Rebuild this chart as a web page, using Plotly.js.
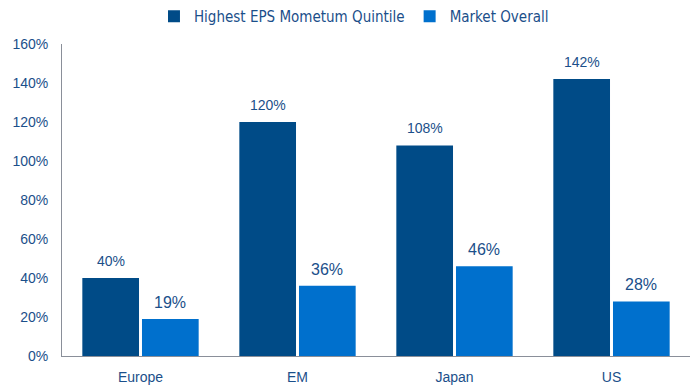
<!DOCTYPE html>
<html>
<head>
<meta charset="utf-8">
<script src="https://cdn.plot.ly/plotly-3.0.1.min.js"></script>
<style>html,body{margin:0;padding:0;background:#fff}#chart{width:690px;height:390px}</style>
</head>
<body>
<div id="chart"></div>
<script>
// Regions and the share of each group (percent)
const regions = ["Europe", "EM", "Japan", "US"];
const topQuintile = [40, 120, 108, 142];
const marketOverall = [19, 36, 46, 28];
const seriesNames = ["Highest EPS Mometum Quintile", "Market Overall"];
const seriesColors = ["#004b87", "#0070cd"];
const yTicks = [0, 20, 40, 60, 80, 100, 120, 140, 160];

const textColor = "#1b4f8a";
const fontFamily = "Liberation Sans, Arial, sans-serif";
const labelFont = {family: fontFamily, size: 14, color: textColor};
const valueFonts = [
  {family: fontFamily, size: 14, color: textColor},
  {family: fontFamily, size: 16, color: textColor}
];

const W = 690, H = 390;
const margin = {l: 62, r: 0, t: 44, b: 34};
const bargap = 0.24;

function barTrace(name, values, color) {
  return {
    type: "bar",
    name: name,
    x: regions,
    y: values,
    marker: {color: color},
    hoverinfo: "skip"
  };
}

const data = [
  barTrace(seriesNames[0], topQuintile, seriesColors[0]),
  barTrace(seriesNames[1], marketOverall, seriesColors[1])
];

// Value labels sit above each bar, shifted sideways to the bar's slot in the group
const catWidth = (W - margin.l - margin.r) / regions.length;
const slotOffset = catWidth * (1 - bargap) / 4;
const annotations = [];
[topQuintile, marketOverall].forEach((vals, s) => {
  vals.forEach((v, i) => {
    annotations.push({
      x: regions[i], y: v, xref: "x", yref: "y",
      text: v + "%",
      showarrow: false,
      yanchor: "bottom",
      yshift: s === 0 ? 7 : 6,
      xshift: s === 0 ? -slotOffset : slotOffset,
      font: valueFonts[s]
    });
  });
});

const layout = {
  width: W,
  height: H,
  margin: margin,
  paper_bgcolor: "#ffffff",
  plot_bgcolor: "#ffffff",
  barmode: "group",
  bargap: bargap,
  bargroupgap: 0.05,
  showlegend: true,
  annotations: annotations,
  legend: {
    orientation: "h",
    xref: "container",
    yref: "container",
    x: 0.513,
    xanchor: "center",
    y: 1.0,
    yanchor: "top",
    font: {family: "DejaVu Sans Condensed, Liberation Sans Narrow, sans-serif", size: 15, color: textColor},
    itemwidth: 30,
    traceorder: "normal"
  },
  xaxis: {
    showline: true,
    linecolor: "#8a8f99",
    linewidth: 1,
    ticks: "",
    showgrid: false,
    ticklabelstandoff: 8,
    tickfont: labelFont,
    fixedrange: true
  },
  yaxis: {
    range: [0, 160],
    tickvals: yTicks,
    ticktext: yTicks.map(v => v + "%"),
    showline: true,
    linecolor: "#8a8f99",
    linewidth: 1,
    showgrid: false,
    zeroline: false,
    ticks: "",
    ticklabelstandoff: 10,
    tickfont: labelFont,
    fixedrange: true
  }
};

Plotly.newPlot("chart", data, layout, {displayModeBar: false, staticPlot: true});
</script>
</body>
</html>
